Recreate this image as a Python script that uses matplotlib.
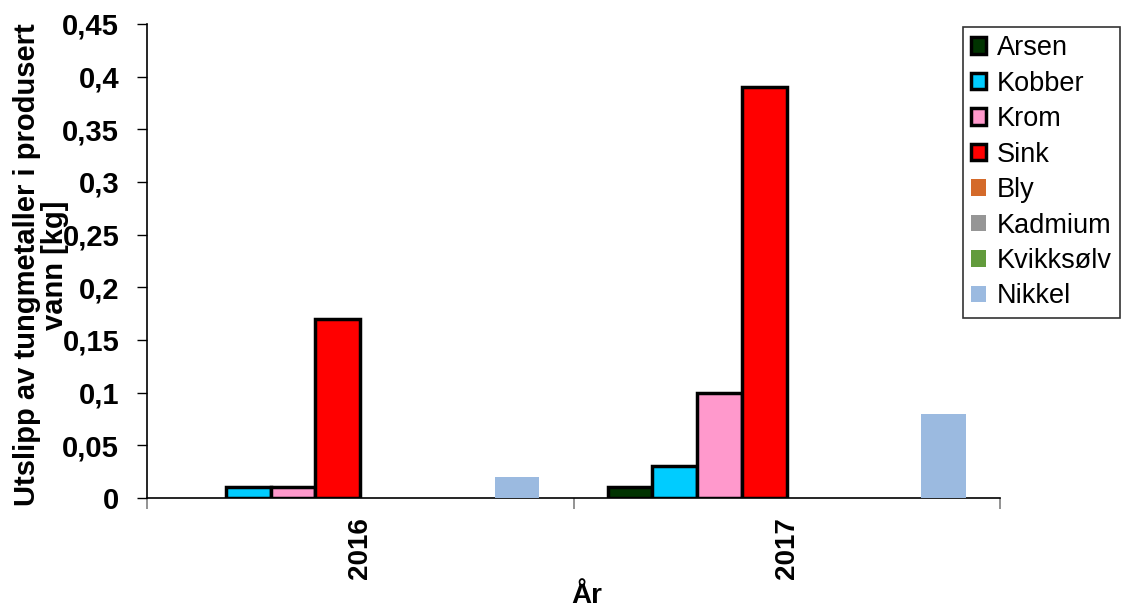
import numpy as np
import matplotlib
matplotlib.use('Agg')
import matplotlib.pyplot as plt

plt.rcParams['font.family'] = ['Liberation Sans', 'DejaVu Sans']

years = ['2016', '2017']
metals = ['Arsen', 'Kobber', 'Krom', 'Sink', 'Bly', 'Kadmium', 'Kvikksølv', 'Nikkel']
arsen = [0.0, 0.01]
kobber = [0.01, 0.03]
krom = [0.01, 0.10]
sink = [0.17, 0.39]
bly = [0.0, 0.0]
kadmium = [0.0, 0.0]
kvikksolv = [0.0, 0.0]
nikkel = [0.02, 0.08]

series = [arsen, kobber, krom, sink, bly, kadmium, kvikksolv, nikkel]
colors = ['#003300', '#00CCFF', '#FF99CC', '#FF0000', '#D46A2A', '#969696', '#629B3C', '#9BBAE0']
outlined = [True, True, True, True, False, False, False, False]

fig = plt.figure(figsize=(11.25, 6.1), dpi=100)
ax = fig.add_axes([147 / 1125, 1 - 498 / 610, 853 / 1125, 474 / 610])

x = np.arange(len(years))
width = 0.105
n = len(metals)
for i, (name, vals) in enumerate(zip(metals, series)):
    pos = x + (i - (n - 1) / 2) * width
    lw = [2.5 if (outlined[i] and v > 0) else 0 for v in vals]
    ax.bar(pos, vals, width, color=colors[i], edgecolor='black', linewidth=lw, zorder=3)
    # legend proxy
    ax.bar([np.nan], [np.nan], color=colors[i], edgecolor='black',
           linewidth=2.5 if outlined[i] else 0, label=name)

ax.set_xlim(-0.5, 1.5)
ax.set_ylim(0, 0.45)
ax.set_yticks(np.arange(0, 0.451, 0.05))
ax.set_yticklabels(['0'] + [('%.2f' % v).rstrip('0').replace('.', ',') for v in np.arange(0.05, 0.451, 0.05)],
                   fontsize=21, fontweight='bold')
ax.set_xticks(x)
ax.set_xticklabels(years, rotation=90, fontsize=20, fontweight='bold')
ax.set_xticks([-0.5, 0.5, 1.5], minor=True)
ax.tick_params(axis='x', which='major', length=0, pad=14)
ax.tick_params(axis='x', which='minor', length=8, width=1.2, color='#808080')
ax.tick_params(axis='y', length=7, width=1, pad=13)

for s in ['top', 'right']:
    ax.spines[s].set_visible(False)
ax.spines['left'].set_linewidth(1.2)
ax.spines['bottom'].set_linewidth(1.2)

fig.text(41 / 1125, 1 - 265 / 610, 'Utslipp av tungmetaller i produsert\nvann [kg]',
         rotation=90, ha='center', va='center', multialignment='center',
         fontsize=21, fontweight='bold', linespacing=1.0)
fig.text(587 / 1125, 1 - 596 / 610, 'År', ha='center', va='center',
         fontsize=20, fontweight='bold')

leg = ax.legend(loc='upper left', bbox_to_anchor=(963 / 1125, 1 - 27 / 610),
                bbox_transform=fig.transFigure, fontsize=19.5, frameon=True,
                fancybox=False, shadow=False, handlelength=0.55, handleheight=0.55,
                handletextpad=0.4, labelspacing=0.35, borderpad=0.3, borderaxespad=0)
leg.get_frame().set_edgecolor('black')
leg.get_frame().set_linewidth(1.2)

fig.savefig('out.png', dpi=100)
